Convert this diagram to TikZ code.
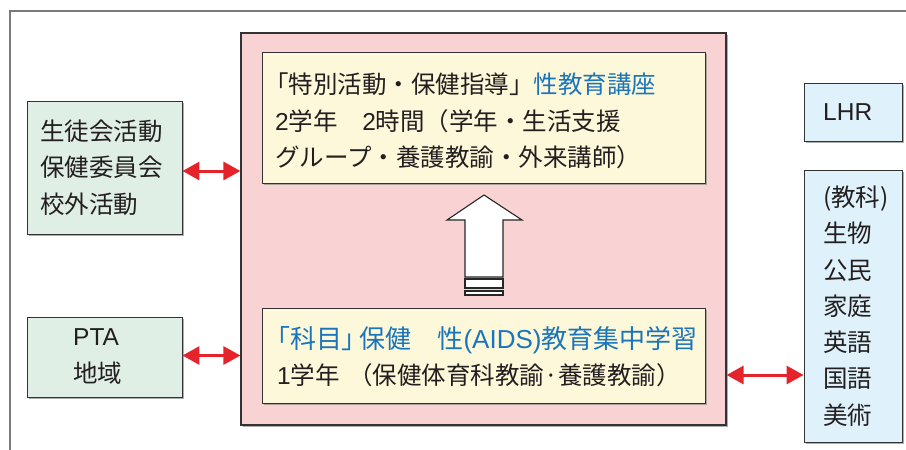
\documentclass[tikz,border=0pt]{standalone}
\usepackage{fontspec}
\setmainfont{Noto Sans CJK JP}
\newfontfamily\jpp[RawFeature=+palt]{Noto Sans CJK JP}
\newfontfamily\lat{Liberation Sans}
\usetikzlibrary{arrows.meta,shadows}
\definecolor{pinkbg}{HTML}{F9D3D3}
\definecolor{yellowbg}{HTML}{FEF8DA}
\definecolor{greenbg}{HTML}{E0EFE5}
\definecolor{bluebg}{HTML}{DFF1FA}
\definecolor{bluetext}{HTML}{1B75BC}
\definecolor{redarrow}{HTML}{E5232B}
\definecolor{framegray}{HTML}{7A7A7A}
\definecolor{txtc}{HTML}{231F20}
\tikzset{
  box/.style={draw=black!80, line width=0.9pt, inner sep=0pt,
    drop shadow={shadow xshift=1.5pt, shadow yshift=-1.5pt, fill=black!45, opacity=0.7}},
  pinkbox/.style={box, fill=pinkbg, line width=1.2pt},
  yelbox/.style={box, fill=yellowbg},
  grnbox/.style={box, fill=greenbg},
  blubox/.style={box, fill=bluebg},
  txt/.style={inner sep=0pt, align=left, text=txtc, anchor=west,
    font=\fontsize{24.5}{36.3}\selectfont},
  redarr/.style={draw=redarrow, line width=3pt,
    {Triangle[length=17pt,width=18pt]}-{Triangle[length=17pt,width=18pt]}},
  uparrow/.style={draw=black!85, fill=white, line width=1.1pt, line join=miter}
}
\begin{document}
\begin{tikzpicture}[x=1pt,y=-1pt]
\useasboundingbox (0,0) rectangle (906,450);
\fill[white] (0,0) rectangle (906,450);
\draw[framegray, line width=1.2pt] (10,450) -- (10,11) -- (906,11);

% boxes
\node[pinkbox, minimum width=485pt, minimum height=392pt] (main) at (483.5,229) {};
\node[yelbox, minimum width=443pt, minimum height=131pt] (top) at (483.5,117.5) {};
\node[yelbox, minimum width=443pt, minimum height=95pt] (bot) at (483.5,355.5) {};
\node[grnbox, minimum width=155pt, minimum height=133pt] (act) at (104.5,167.5) {};
\node[grnbox, minimum width=155pt, minimum height=80pt] (pta) at (104.5,357) {};
\node[blubox, minimum width=98pt, minimum height=58pt] (lhr) at (853,112) {};
\node[blubox, minimum width=98pt, minimum height=272pt] (subj) at (853,306) {};

% texts
\node[txt] (ttop) at (275,121) {\kern-0.45em「特別活動・保健指導」{\color{bluetext}性教育講座}\\
{\lat 2}学年　{\lat 2}時間（学年・生活支援\\
グループ・養護教諭・外来講師）};
\node[txt] (tbot) at (277,356.5) {{\color{bluetext}\fontsize{26}{36.3}\selectfont\jpp 「科目」\,保健　性{\lat (AIDS)}教育集中学習}\\
{\lat 1}学年\hspace{0.35em}（保健体育科教諭·養護教諭）};
\node[txt] (tact) at (40,167.5) {生徒会活動\\保健委員会\\校外活動};
\node[txt] (tpta) at (73,356.5) {{\lat PTA}\\地域};
\node[txt] (tlhr) at (823,112) {\lat LHR};
\node[txt] (tsubj) at (823,306) {(教科)\\生物\\公民\\家庭\\英語\\国語\\美術};

% up arrow
\draw[uparrow] (484,195) -- (522,220) -- (503,220) -- (503,277) -- (465,277) -- (465,220) -- (447,220) -- cycle;
\draw[uparrow] (465,279) rectangle (503,288);
\draw[uparrow] (465,291) rectangle (503,295);

% red double arrows
\coordinate (a1) at ([yshift=-3.5pt]act.east);
\draw[redarr] (a1) -- (a1 -| main.west);
\coordinate (a2) at ([yshift=1.5pt]pta.east);
\draw[redarr] (a2) -- (a2 -| main.west);
\coordinate (a3) at ([yshift=-69pt]subj.west);
\draw[redarr] (a3 -| main.east) -- (a3);
\end{tikzpicture}
\end{document}
